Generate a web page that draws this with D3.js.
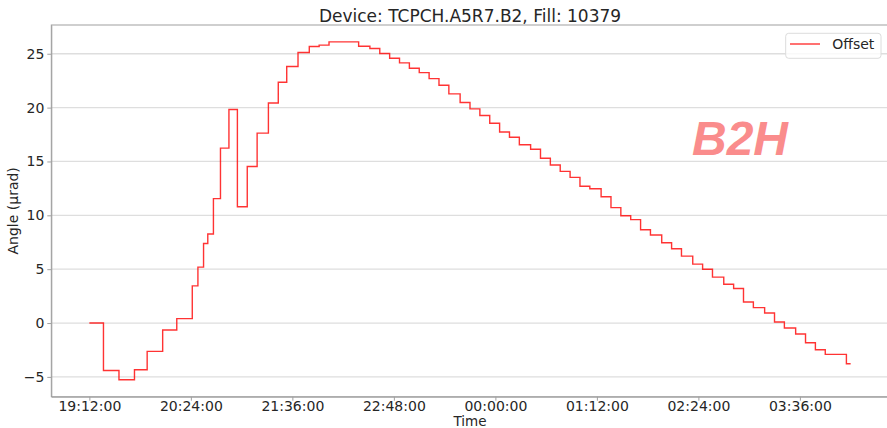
<html>

<head>
  <script src="https://d3js.org/d3.v7.min.js"></script>
  <style>
    body {
      margin: 0;
      background: white;
    }

    text {
      font-family: "DejaVu Sans", sans-serif;
      fill: #262626;
    }

    .tick line {
      stroke: #a0a0a0;
    }

    .domain {
      stroke: #a0a0a0;
    }

    #b2h_label {
      font-family: "Liberation Sans", Arial, sans-serif;
      font-size: 48px;
      font-weight: bold;
      font-style: italic;
      fill: #fa8c8c;
    }
  </style>
</head>

<body>
  <svg id="chart" width="887" height="428"></svg>
  <script>
    // Step start times (HH:MM) and offset values
    const stepTimes = [
      "19:12", "19:22", "19:33", "19:44", "19:53", "20:04", "20:14", "20:25",
      "20:29", "20:33", "20:36", "20:40", "20:45", "20:51", "20:57", "21:04",
      "21:11", "21:19", "21:26", "21:32", "21:40", "21:48", "21:55", "22:02",
      "22:23", "22:31", "22:38", "22:45", "22:52", "22:59", "23:06", "23:13",
      "23:20", "23:27", "23:35", "23:42", "23:49", "23:56", "00:03", "00:10",
      "00:17", "00:25", "00:32", "00:39", "00:46", "00:53", "01:00", "01:07",
      "01:15", "01:22", "01:29", "01:36", "01:43", "01:50", "01:58", "02:05",
      "02:12", "02:20", "02:27", "02:34", "02:42", "02:49", "02:56", "03:03",
      "03:11", "03:18", "03:25", "03:33", "03:40", "03:47", "03:54", "04:09"
    ];
    const offsetValues = [
      0.0, -4.4, -5.27, -4.34, -2.63, -0.65, 0.41, 3.45,
      5.19, 7.39, 8.26, 11.55, 16.24, 19.83, 10.8, 14.53,
      17.63, 20.43, 22.35, 23.81, 25.11, 25.67, 25.8, 26.1,
      25.7, 25.48, 25.02, 24.58, 24.15, 23.65, 23.25, 22.69,
      22.07, 21.27, 20.47, 19.88, 19.26, 18.55, 17.73, 17.25,
      16.55, 16.14, 15.3, 14.67, 14.08, 13.52, 12.7, 12.46,
      11.73, 10.71, 9.96, 9.6, 8.66, 8.18, 7.45, 6.89,
      6.21, 5.47, 5.0, 4.26, 3.6, 3.2, 1.96, 1.43,
      0.93, 0.1, -0.46, -1.02, -1.83, -2.48, -2.91, -3.78
    ];
    const endTime = "04:12";

    const xTickLabels = [
      "19:12:00", "20:24:00", "21:36:00", "22:48:00",
      "00:00:00", "01:12:00", "02:24:00", "03:36:00"
    ];
    const yTicks = [-5, 0, 5, 10, 15, 20, 25];

    // times before noon belong to the next day
    function toDate(s) {
      const parts = s.split(":").map(Number);
      const day = parts[0] < 12 ? 2 : 1;
      return new Date(2024, 6, day, parts[0], parts[1], parts[2] || 0);
    }

    const data = stepTimes.map((t, i) => ({ time: toDate(t), value: offsetValues[i] }));
    // repeat the last value at the end time so the final step is drawn
    data.push({ time: toDate(endTime), value: offsetValues[offsetValues.length - 1] });

    const svg = d3.select("#chart");
    const plot = { left: 51.3, right: 888.7, top: 25, bottom: 396.7 };

    // 5% padding on each side like matplotlib autoscale
    const tExtent = d3.extent(data, d => d.time);
    const tPad = (tExtent[1] - tExtent[0]) * 0.05;
    const x = d3.scaleTime()
      .domain([new Date(+tExtent[0] - tPad), new Date(+tExtent[1] + tPad)])
      .range([plot.left, plot.right]);

    const vExtent = d3.extent(offsetValues);
    const vPad = (vExtent[1] - vExtent[0]) * 0.05;
    const y = d3.scaleLinear()
      .domain([vExtent[0] - vPad, vExtent[1] + vPad])
      .range([plot.bottom, plot.top]);

    // horizontal grid
    svg.append("g")
      .selectAll("line")
      .data(yTicks)
      .enter()
      .append("line")
      .attr("x1", plot.left)
      .attr("x2", plot.right)
      .attr("y1", d => y(d))
      .attr("y2", d => y(d))
      .style("stroke", "#dedede")
      .style("stroke-width", 1.3);

    // frame (top and right spines)
    svg.append("rect")
      .attr("x", plot.left)
      .attr("y", plot.top)
      .attr("width", plot.right - plot.left)
      .attr("height", plot.bottom - plot.top)
      .style("fill", "none")
      .style("stroke", "#a0a0a0")
      .style("stroke-width", 1);

    const xAxis = d3.axisBottom(x)
      .tickValues(xTickLabels.map(toDate))
      .tickFormat(d3.timeFormat("%H:%M:%S"))
      .tickSize(4)
      .tickPadding(0)
      .tickSizeOuter(0);

    svg.append("g")
      .attr("transform", "translate(0," + plot.bottom + ")")
      .call(xAxis)
      .call(g => g.selectAll("text").style("font-size", "14px").style("fill", "#262626"));

    const yAxis = d3.axisLeft(y)
      .tickValues(yTicks)
      .tickSize(4)
      .tickPadding(3)
      .tickSizeOuter(0);

    svg.append("g")
      .attr("transform", "translate(" + plot.left + ",0)")
      .call(yAxis)
      .call(g => g.selectAll("text").style("font-size", "14px").style("fill", "#262626"));

    // offset line
    const line = d3.line()
      .x(d => x(d.time))
      .y(d => y(d.value))
      .curve(d3.curveStepAfter);

    svg.append("path")
      .datum(data)
      .attr("d", line)
      .style("fill", "none")
      .style("stroke", "red")
      .style("stroke-opacity", 0.8)
      .style("stroke-width", 1.4);

    // title and axis labels
    svg.append("text")
      .attr("x", (plot.left + plot.right) / 2)
      .attr("y", 21.5)
      .attr("text-anchor", "middle")
      .style("font-size", "17px")
      .text("Device: TCPCH.A5R7.B2, Fill: 10379");

    svg.append("text")
      .attr("x", (plot.left + plot.right) / 2)
      .attr("y", 425.5)
      .attr("text-anchor", "middle")
      .style("font-size", "13.5px")
      .text("Time");

    svg.append("text")
      .attr("transform", "translate(18," + (plot.top + plot.bottom) / 2 + ") rotate(-90)")
      .attr("text-anchor", "middle")
      .style("font-size", "14px")
      .text("Angle (μrad)");

    svg.append("text")
      .attr("id", "b2h_label")
      .attr("x", 692)
      .attr("y", 155)
      .text("B2H");

    // legend
    const legend = svg.append("g").attr("id", "legend");
    legend.append("rect")
      .attr("x", 785.7)
      .attr("y", 33.3)
      .attr("width", 95.3)
      .attr("height", 25)
      .attr("rx", 3)
      .style("fill", "white")
      .style("fill-opacity", 0.8)
      .style("stroke", "#dcdcdc");
    legend.append("line")
      .attr("x1", 790)
      .attr("x2", 820)
      .attr("y1", 44)
      .attr("y2", 44)
      .style("stroke", "red")
      .style("stroke-opacity", 0.8)
      .style("stroke-width", 1.4);
    legend.append("text")
      .attr("x", 832.3)
      .attr("y", 49.3)
      .style("font-size", "14px")
      .text("Offset");
  </script>
</body>

</html>
